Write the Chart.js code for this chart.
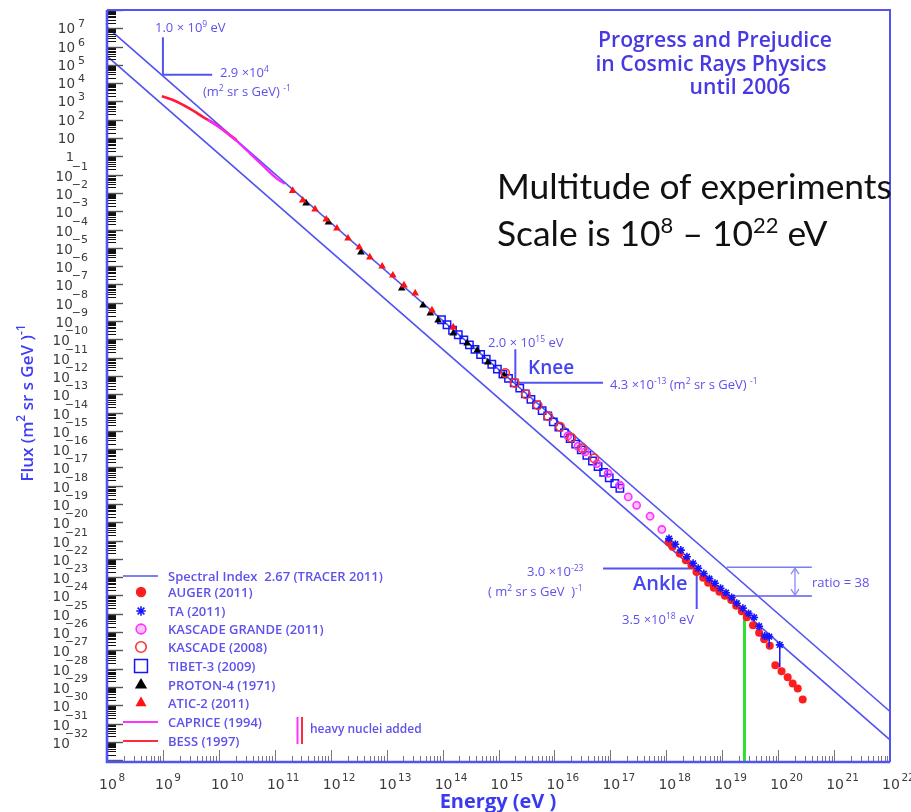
<!DOCTYPE html>
<html>
<head>
<meta charset="utf-8">
<script src="https://cdn.jsdelivr.net/npm/chart.js@4.4.1/dist/chart.umd.min.js"></script>
<style>
  html, body { margin: 0; padding: 0; background: #ffffff; }
  #wrap { width: 911px; height: 812px; position: relative; }
  canvas { display: block; }
</style>
</head>
<body>
<div id="wrap"><canvas id="c" width="911" height="812"></canvas></div>
<script>
// ---------------- axis ranges and tick labels ----------------
const energyMin = 1e8, energyMax = 1e22;
const fluxMin = 7.94e-34, fluxMax = 1e8;
const energyTickExponents = [8, 9, 10, 11, 12, 13, 14, 15, 16, 17, 18, 19, 20, 21, 22];
const fluxTickExponents = [7, 6, 5, 4, 3, 2, 1, 0, -1, -2, -3, -4, -5, -6, -7, -8, -9, -10, -11, -12,
  -13, -14, -15, -16, -17, -18, -19, -20, -21, -22, -23, -24, -25, -26, -27, -28, -29, -30, -31, -32];

// ---------------- spectral index 2.67 reference lines ----------------
const tracerLineEnergy = [1e8, 1e22];
const tracerUpperFlux = [1.15e7, 4.6e-31];
const tracerLowerFlux = [3.0e5, 1.3e-32];

// ---------------- measurements (energy in eV, flux in (m^2 sr s GeV)^-1) ----------------
const bessEnergy = [9.55e8, 1.55e9, 3.02e9, 5.25e9, 9.12e9, 1.58e10, 2.09e10];
const bessFlux   = [1.91e3, 1.17e3, 4.07e2, 1.41e2, 5.01e1, 1.41e1, 7.59];

const capriceEnergy = [6.31e9, 1.12e10, 2.00e10, 3.63e10, 6.31e10, 1.07e11, 1.51e11];
const capriceFlux   = [1.00e2, 3.16e1, 7.59, 1.41, 2.82e-1, 6.31e-2, 3.16e-2];

const aticEnergy = [2.09e11, 3.16e11, 5.25e11, 8.32e11, 1.29e12, 2.04e12, 3.24e12, 5.01e12, 8.32e12,
  1.29e13, 2.04e13, 3.24e13, 6.46e13, 1.55e14];
const aticFlux   = [1.32e-2, 3.98e-3, 1.29e-3, 3.63e-4, 1.17e-4, 3.31e-5, 1.07e-5, 3.09e-6, 9.77e-7,
  3.16e-7, 9.12e-8, 3.31e-8, 3.89e-9, 4.57e-10];

const protonEnergy = [3.63e11, 9.12e11, 3.47e12, 1.86e13, 4.47e13, 6.03e13, 8.32e13, 1.55e14, 2.75e14,
  4.17e14, 6.46e14, 1.26e15];
const protonFlux   = [2.75e-3, 2.51e-4, 5.75e-6, 6.17e-8, 7.24e-9, 2.69e-9, 1.10e-9, 2.14e-10, 6.17e-11,
  2.51e-11, 5.62e-12, 1.10e-12];

const tibetEnergy = [9.55e13, 1.20e14, 1.51e14, 1.91e14, 2.40e14, 3.02e14, 3.80e14, 4.79e14, 6.03e14,
  7.59e14, 9.55e14, 1.20e15, 1.51e15, 1.91e15, 2.40e15, 3.02e15, 3.80e15, 4.79e15, 6.03e15, 7.59e15,
  9.55e15, 1.20e16, 1.51e16, 1.91e16, 2.40e16, 3.02e16, 3.80e16, 4.79e16, 6.03e16, 7.59e16, 9.55e16,
  1.20e17, 1.48e17];
const tibetFlux   = [1.17e-9, 6.31e-10, 3.16e-10, 1.78e-10, 9.33e-11, 5.01e-11, 2.82e-11, 1.48e-11, 8.13e-12,
  4.37e-12, 2.34e-12, 1.26e-12, 7.41e-13, 4.17e-13, 2.14e-13, 1.05e-13, 5.25e-14, 2.63e-14, 1.26e-14, 6.46e-15,
  3.09e-15, 1.58e-15, 7.59e-16, 3.80e-16, 1.86e-16, 9.12e-17, 4.57e-17, 2.24e-17, 1.10e-17, 5.37e-18, 2.69e-18,
  1.32e-18, 7.24e-19];

const kascadeEnergy = [1.32e15, 1.95e15, 3.09e15, 5.01e15, 7.76e15, 1.26e16, 2.00e16, 3.16e16, 5.13e16];
const kascadeFlux   = [1.45e-12, 4.17e-13, 1.00e-13, 2.51e-14, 6.31e-15, 1.66e-15, 4.17e-16, 1.12e-16, 3.16e-17];

const grandeEnergy = [1.74e16, 2.63e16, 3.55e16, 5.75e16, 9.12e16, 1.48e17, 2.09e17, 2.95e17, 5.13e17, 8.32e17];
const grandeFlux   = [5.25e-16, 1.41e-16, 7.08e-17, 1.62e-17, 4.68e-18, 1.07e-18, 2.45e-19, 8.51e-20, 2.14e-20, 4.07e-21];

const augerEnergy = [1.10e18, 1.29e18, 1.74e18, 2.24e18, 2.82e18, 3.47e18, 4.57e18, 5.62e18, 7.08e18, 8.91e18,
  1.12e19, 1.45e19, 1.78e19, 2.24e19, 2.75e19, 3.55e19, 4.57e19, 5.62e19, 7.08e19, 8.91e19,
  1.15e20, 1.48e20, 1.82e20, 2.24e20, 2.75e20];
const augerFlux   = [8.51e-22, 4.57e-22, 2.00e-22, 8.51e-23, 4.57e-23, 1.95e-23, 9.33e-24, 5.01e-24, 2.69e-24, 1.58e-24,
  9.77e-25, 5.75e-25, 2.75e-25, 1.38e-25, 6.46e-26, 2.40e-26, 9.33e-27, 4.07e-27, 1.82e-27, 1.55e-28,
  7.24e-29, 3.39e-29, 1.55e-29, 8.32e-30, 2.09e-30];

const taEnergy = [1.12e18, 1.45e18, 1.82e18, 2.34e18, 3.02e18, 3.72e18, 4.68e18, 5.89e18, 7.41e18, 9.33e18,
  1.17e19, 1.48e19, 1.82e19, 2.34e19, 2.95e19, 3.72e19, 4.57e19, 5.75e19, 6.92e19, 1.07e20];
const taFlux   = [1.29e-21, 6.31e-22, 3.02e-22, 1.32e-22, 5.75e-23, 3.09e-23, 1.58e-23, 8.32e-24, 4.68e-24, 2.51e-24,
  1.41e-24, 7.76e-25, 3.80e-25, 2.04e-25, 1.05e-25, 6.31e-26, 2.09e-26, 6.17e-27, 5.62e-27, 2.00e-27];
// TA error bars: energy, upper flux, lower flux
const taErrEnergy = [6.92e19, 1.07e20];
const taErrHigh   = [6.76e-27, 2.00e-27];
const taErrLow    = [1.48e-27, 1.20e-28];

// ---------------- labelled reference marks ----------------
const firstMarkEnergy = 1.0e9,  firstMarkFlux = 2.9e4;
const firstMarkTopFlux = 3.2e6, firstMarkRightEnergy = 7.6e9;
const kneeEnergy = 2.0e15, kneeFlux = 4.3e-13;
const kneeTopFlux = 2.9e-11, kneeRightEnergy = 7.4e16;
const ankleEnergy = 3.5e18, ankleFlux = 3.0e-23;
const ankleLeftEnergy = 7.4e16, ankleBottomFlux = 1.8e-25;
const ratioValue = 38;
const ratioUpperFlux = 3.55e-23;
const ratioUpperStart = 1.2e19, ratioLowerStart = 1.3e19, ratioEnd = 4.0e20, ratioArrowEnergy = 2.0e20;
const cutoffEnergy = 2.5e19, cutoffFlux = 7.4e-26;

// ---------------- legend entries ----------------
const legendLabels = ['Spectral Index  2.67 (TRACER 2011)', 'AUGER (2011)', 'TA (2011)', 'KASCADE GRANDE (2011)',
  'KASCADE (2008)', 'TIBET-3 (2009)', 'PROTON-4 (1971)', 'ATIC-2 (2011)', 'CAPRICE (1994)', 'BESS (1997)'];

// ---------------- styles ----------------
const BLUE = '#5353f2';
const TEXT_BLUE = '#5f52ec';
const pts = (xs, ys) => xs.map((x, i) => ({ x: x, y: ys[i] }));
const seg = (x1, y1, x2, y2) => [{ x: x1, y: y1 }, { x: x2, y: y2 }];

const styles = {
  auger:   { pointStyle: 'circle',   radius: 4,   fill: '#ff1e1e', stroke: '#ff1e1e', borderWidth: 0 },
  ta:      { pointStyle: 'star',     radius: 4,   fill: '#1515ff', stroke: '#1515ff', borderWidth: 1.6 },
  grande:  { pointStyle: 'circle',   radius: 3.6, fill: 'rgba(255,80,255,0.35)', stroke: '#ff33ff', borderWidth: 1.6 },
  kascade: { pointStyle: 'circle',   radius: 4.2, fill: 'rgba(0,0,0,0)', stroke: '#ff3232', borderWidth: 1.6 },
  tibet:   { pointStyle: 'rect',     radius: 5.2, fill: 'rgba(0,0,0,0)', stroke: '#1414ff', borderWidth: 1.5 },
  proton:  { pointStyle: 'triangle', radius: 4.4, fill: '#000000', stroke: '#000000', borderWidth: 0 },
  atic:    { pointStyle: 'triangle', radius: 4.4, fill: '#ff1212', stroke: '#ff1212', borderWidth: 0 }
};

function scatterSet(label, xs, ys, st, order) {
  return {
    label: label, data: pts(xs, ys), showLine: false, order: order,
    pointStyle: st.pointStyle, pointRadius: st.radius, pointBackgroundColor: st.fill,
    pointBorderColor: st.stroke, pointBorderWidth: st.borderWidth
  };
}
function lineSet(label, data, color, width, order, extra) {
  return Object.assign({
    label: label, data: data, showLine: true, borderColor: color, borderWidth: width,
    pointRadius: 0, order: order, tension: 0
  }, extra || {});
}

const datasets = [
  lineSet('tracer upper', pts(tracerLineEnergy, tracerUpperFlux), BLUE, 1.6, 20),
  lineSet('tracer lower', pts(tracerLineEnergy, tracerLowerFlux), BLUE, 1.6, 20),
  lineSet('mark 1e9 v', seg(firstMarkEnergy, firstMarkTopFlux, firstMarkEnergy, firstMarkFlux), BLUE, 2, 18),
  lineSet('mark 1e9 h', seg(firstMarkEnergy, firstMarkFlux, firstMarkRightEnergy, firstMarkFlux), BLUE, 2, 18),
  lineSet('knee v', seg(kneeEnergy, kneeTopFlux, kneeEnergy, kneeFlux), BLUE, 2, 18),
  lineSet('knee h', seg(kneeEnergy, kneeFlux, kneeRightEnergy, kneeFlux), BLUE, 2, 18),
  lineSet('ankle h', seg(ankleLeftEnergy, ankleFlux, ankleEnergy, ankleFlux), BLUE, 2, 18),
  lineSet('ankle v', seg(ankleEnergy, ankleFlux, ankleEnergy, ankleBottomFlux), BLUE, 2, 18),
  lineSet('ratio upper', seg(ratioUpperStart, ratioUpperFlux, ratioEnd, ratioUpperFlux), '#7b7bf4', 1.5, 18),
  lineSet('ratio lower', seg(ratioLowerStart, ratioUpperFlux / ratioValue, ratioEnd, ratioUpperFlux / ratioValue), '#5a5af2', 1.5, 18),
  lineSet('ratio arrow', seg(ratioArrowEnergy, ratioUpperFlux, ratioArrowEnergy, ratioUpperFlux / ratioValue), '#8a8af5', 1.3, 18),
  lineSet('cutoff', seg(cutoffEnergy, fluxMin, cutoffEnergy, cutoffFlux), '#2ee02e', 3, 17),
  lineSet('BESS (1997)', pts(bessEnergy, bessFlux), '#ff1a3c', 2.6, 12, { tension: 0.4, cubicInterpolationMode: 'monotone' }),
  lineSet('CAPRICE (1994)', pts(capriceEnergy, capriceFlux), '#ff22ff', 2.2, 11, { tension: 0.4, cubicInterpolationMode: 'monotone' }),
  scatterSet('TIBET-3 (2009)', tibetEnergy, tibetFlux, styles.tibet, 9),
  scatterSet('PROTON-4 (1971)', protonEnergy, protonFlux, styles.proton, 8),
  scatterSet('ATIC-2 (2011)', aticEnergy, aticFlux, styles.atic, 7),
  scatterSet('KASCADE GRANDE (2011)', grandeEnergy, grandeFlux, styles.grande, 6),
  scatterSet('KASCADE (2008)', kascadeEnergy, kascadeFlux, styles.kascade, 5),
  scatterSet('AUGER (2011)', augerEnergy, augerFlux, styles.auger, 4),
  scatterSet('TA (2011)', taEnergy, taFlux, styles.ta, 3)
];
taErrEnergy.forEach((e, i) => {
  datasets.push(lineSet('TA error', seg(e, taErrHigh[i], e, taErrLow[i]), '#1515ff', 1.5, 3));
});

// ---------------- text helpers ----------------
function font(size, weight, family) {
  return (weight || 'normal') + ' ' + size + 'px ' + (family || '"Open Sans", "Noto Sans", sans-serif');
}
// parts: [text, isSuperscript]
function richText(ctx, parts, x, y, o) {
  const size = o.size, sup = o.sup || Math.round(size * 0.68);
  const w = [];
  let total = 0;
  parts.forEach(p => { ctx.font = font(p[1] ? sup : size, o.weight, o.family); const m = ctx.measureText(p[0]).width; w.push(m); total += m; });
  let cx = o.align === 'center' ? x - total / 2 : (o.align === 'right' ? x - total : x);
  ctx.fillStyle = o.color;
  ctx.textAlign = 'left';
  ctx.textBaseline = 'alphabetic';
  parts.forEach((p, i) => {
    ctx.font = font(p[1] ? sup : size, o.weight, o.family);
    ctx.fillText(p[0], cx, p[1] ? y - size * (o.rise || 0.42) : y);
    cx += w[i];
  });
  return total;
}
function fitSize(ctx, text, target, weight, family, base) {
  ctx.font = font(base, weight, family);
  return base * target / ctx.measureText(text).width;
}

// ---------------- axes, ticks, labels, legend and notes ----------------
const decorations = {
  id: 'decorations',
  afterDatasetsDraw(chart) {
    const ctx = chart.ctx, X = chart.scales.x, Y = chart.scales.y, a = chart.chartArea;
    const px = v => X.getPixelForValue(v), py = v => Y.getPixelForValue(v);
    ctx.save();

    // flux ticks (inside, from left axis)
    for (let e = -34; e <= 8; e++) {
      for (let m = 1; m <= 9; m++) {
        const v = m * Math.pow(10, e);
        if (v < fluxMin || v > fluxMax) continue;
        const y = Math.round(py(v)) + 0.5;
        ctx.strokeStyle = m === 1 ? '#555555' : '#111111';
        ctx.lineWidth = m === 1 ? 1.4 : 1;
        ctx.beginPath(); ctx.moveTo(a.left, y); ctx.lineTo(a.left + (m === 1 ? 16 : 9), y); ctx.stroke();
      }
    }
    // energy ticks (inside, from bottom axis)
    for (let e = 8; e <= 22; e++) {
      for (let m = 1; m <= 9; m++) {
        const v = m * Math.pow(10, e);
        if (v <= energyMin || v > energyMax) continue;
        const x = Math.round(px(v)) + 0.5;
        ctx.strokeStyle = '#777777';
        ctx.lineWidth = 1;
        ctx.beginPath(); ctx.moveTo(x, a.bottom); ctx.lineTo(x, a.bottom - (m === 1 ? 12 : 6)); ctx.stroke();
      }
    }

    // frame
    ctx.strokeStyle = BLUE;
    ctx.lineWidth = 2;
    ctx.beginPath(); ctx.moveTo(a.left, a.top); ctx.lineTo(a.right, a.top); ctx.lineTo(a.right, a.bottom); ctx.stroke();
    ctx.lineWidth = 2.6;
    ctx.beginPath(); ctx.moveTo(a.left, a.top); ctx.lineTo(a.left, a.bottom); ctx.lineTo(a.right, a.bottom); ctx.stroke();

    // energy tick labels
    const tickColor = '#3c3c3c', tickFam = '"DejaVu Sans", sans-serif';
    energyTickExponents.forEach(n => {
      const x = px(Math.pow(10, n));
      ctx.fillStyle = tickColor;
      ctx.font = font(14, 'normal', tickFam);
      ctx.textAlign = 'center'; ctx.textBaseline = 'alphabetic';
      const tw = ctx.measureText('10').width;
      ctx.fillText('10', x + 1, 789);
      ctx.font = font(10.5, 'normal', tickFam);
      ctx.textAlign = 'left';
      ctx.fillText(String(n), x + 1 + tw / 2 + 1.5, 781);
    });
    // flux tick labels
    fluxTickExponents.forEach(n => {
      const y = py(Math.pow(10, n));
      ctx.fillStyle = tickColor;
      ctx.textBaseline = 'alphabetic';
      if (n === 0) {
        ctx.font = font(13, 'normal', tickFam); ctx.textAlign = 'center';
        ctx.fillText('1', 70, y + 5);
      } else if (n === 1) {
        ctx.font = font(13.5, 'normal', tickFam); ctx.textAlign = 'right';
        ctx.fillText('10', 75, y + 5);
      } else if (n > 1) {
        ctx.font = font(13.5, 'normal', tickFam); ctx.textAlign = 'right';
        ctx.fillText('10', 75, y + 5);
        ctx.font = font(11, 'normal', tickFam); ctx.textAlign = 'left';
        ctx.fillText(String(n), 78, y - 1);
      } else {
        const ex = '\u2212' + String(-n);
        ctx.font = font(11, 'normal', tickFam);
        const ew = ctx.measureText(ex).width;
        ctx.textAlign = 'right';
        ctx.fillText(ex, 88, y - 5);
        const tenRight = 88 - ew + (-n >= 10 ? 5 : 1);
        ctx.font = font(13.5, 'normal', tickFam);
        ctx.fillText('10', tenRight, y + 6);
      }
    });

    // axis titles
    richText(ctx, [['Energy (eV )', false]], 498, 808, { size: 20, weight: '700', color: '#3a3af0', align: 'center' });
    ctx.save();
    ctx.translate(33, 403);
    ctx.rotate(-Math.PI / 2);
    richText(ctx, [['Flux (m', false], ['2', true], [' sr s GeV )', false], ['-1', true]], 0, 0,
      { size: 17, sup: 12, weight: '600', color: '#3d3df5', align: 'center', rise: 0.5 });
    ctx.restore();

    // title block
    const tFam = '"Open Sans", sans-serif';
    const t1 = 'Progress and Prejudice', t2 = 'in Cosmic Rays Physics', t3 = 'until 2006';
    const ts = fitSize(ctx, t1, 234, '600', tFam, 17);
    richText(ctx, [[t1, false]], 715, 47, { size: ts, weight: '600', family: tFam, color: '#4638e2', align: 'center' });
    richText(ctx, [[t2, false]], 711, 71, { size: ts, weight: '600', family: tFam, color: '#4638e2', align: 'center' });
    richText(ctx, [[t3, false]], 740, 94, { size: ts, weight: '600', family: tFam, color: '#4638e2', align: 'center' });

    // headline note
    const nFam = 'Lato, "Open Sans", sans-serif';
    const ns = fitSize(ctx, 'Multitude of experiments', 395, 'normal', nFam, 30);
    richText(ctx, [['Multitude of experiments', false]], 497, 199, { size: ns, weight: 'normal', family: nFam, color: '#111111' });
    richText(ctx, [['Scale is 10', false], ['8', true], [' \u2013 10', false], ['22', true], [' eV', false]], 497, 246,
      { size: ns, sup: ns * 0.62, weight: 'normal', family: nFam, color: '#111111', rise: 0.38 });

    // reference mark notes
    const an = { size: 13, sup: 8.5, weight: '500', color: TEXT_BLUE };
    richText(ctx, [['1.0 \u00d7 10', false], ['9', true], [' eV', false]], 155, 32, an);
    richText(ctx, [['2.9 \u00d710', false], ['4', true]], 220, 77, an);
    richText(ctx, [['(m', false], ['2', true], [' sr s GeV) ', false], ['-1', true]], 203, 96, an);
    richText(ctx, [['2.0 \u00d7 10', false], ['15', true], [' eV', false]], 488, 347, an);
    richText(ctx, [['Knee', false]], 528, 374, { size: 19, weight: '600', color: '#4545ee' });
    richText(ctx, [['4.3 \u00d710', false], ['-13', true], [' (m', false], ['2', true], [' sr s GeV) ', false], ['-1', true]], 610, 389, an);
    richText(ctx, [['3.0 \u00d710', false], ['-23', true]], 527, 576, an);
    richText(ctx, [['( m', false], ['2', true], [' sr s GeV  )', false], ['-1', true]], 488, 596, an);
    richText(ctx, [['Ankle', false]], 633, 590, { size: 20, weight: '600', color: '#4545ee' });
    richText(ctx, [['3.5 \u00d710', false], ['18', true], [' eV', false]], 622, 624, an);
    richText(ctx, [['ratio = ' + ratioValue, false]], 812, 587, an);

    // ratio arrow heads
    const ax = px(ratioArrowEnergy), ayTop = py(ratioUpperFlux), ayBot = py(ratioUpperFlux / ratioValue);
    ctx.strokeStyle = '#8a8af5'; ctx.lineWidth = 1.3;
    ctx.beginPath();
    ctx.moveTo(ax - 4, ayTop + 7); ctx.lineTo(ax, ayTop + 1); ctx.lineTo(ax + 4, ayTop + 7);
    ctx.moveTo(ax - 4, ayBot - 7); ctx.lineTo(ax, ayBot - 1); ctx.lineTo(ax + 4, ayBot - 7);
    ctx.stroke();

    // legend
    const rowY = [576, 592, 611, 629, 647, 666, 685, 703, 722, 741];
    const legendStyles = [null, styles.auger, styles.ta, styles.grande, styles.kascade, styles.tibet, styles.proton, styles.atic, null, null];
    const legendScale = [0, 1.3, 1.2, 1.35, 1.25, 1.75, 1.6, 1.45, 0, 0];
    const lineColors = [BLUE, null, null, null, null, null, null, null, '#ff33ff', '#ff2a3c'];
    legendLabels.forEach((lab, i) => {
      const y = rowY[i];
      if (lineColors[i]) {
        ctx.strokeStyle = lineColors[i]; ctx.lineWidth = i === 0 ? 1.6 : 2;
        ctx.beginPath(); ctx.moveTo(123, y); ctx.lineTo(158, y); ctx.stroke();
      } else {
        const st = legendStyles[i];
        ctx.save();
        ctx.fillStyle = st.fill; ctx.strokeStyle = st.stroke; ctx.lineWidth = st.borderWidth;
        Chart.helpers.drawPoint(ctx, { pointStyle: st.pointStyle, radius: st.radius * legendScale[i], rotation: 0, borderWidth: st.borderWidth }, 141, y);
        ctx.restore();
      }
      richText(ctx, [[lab, false]], 168, y + 4.5, { size: 13, weight: '600', color: TEXT_BLUE });
    });
    ctx.strokeStyle = '#ff33ff'; ctx.lineWidth = 2;
    ctx.beginPath(); ctx.moveTo(297.5, 717); ctx.lineTo(297.5, 744); ctx.stroke();
    ctx.strokeStyle = '#ff2a3c';
    ctx.beginPath(); ctx.moveTo(302, 717); ctx.lineTo(302, 744); ctx.stroke();
    richText(ctx, [['heavy nuclei added', false]], 310, 733, { size: 12, weight: '600', color: TEXT_BLUE });

    ctx.restore();
  }
};

new Chart(document.getElementById('c'), {
  type: 'scatter',
  data: { datasets: datasets },
  options: {
    responsive: false,
    devicePixelRatio: 1,
    animation: false,
    layout: { padding: { left: 107, top: 10, right: 21, bottom: 50 } },
    plugins: { legend: { display: false }, tooltip: { enabled: false } },
    scales: {
      x: { type: 'logarithmic', min: energyMin, max: energyMax, display: false },
      y: { type: 'logarithmic', min: fluxMin, max: fluxMax, display: false }
    }
  },
  plugins: [decorations]
});
</script>
</body>
</html>
